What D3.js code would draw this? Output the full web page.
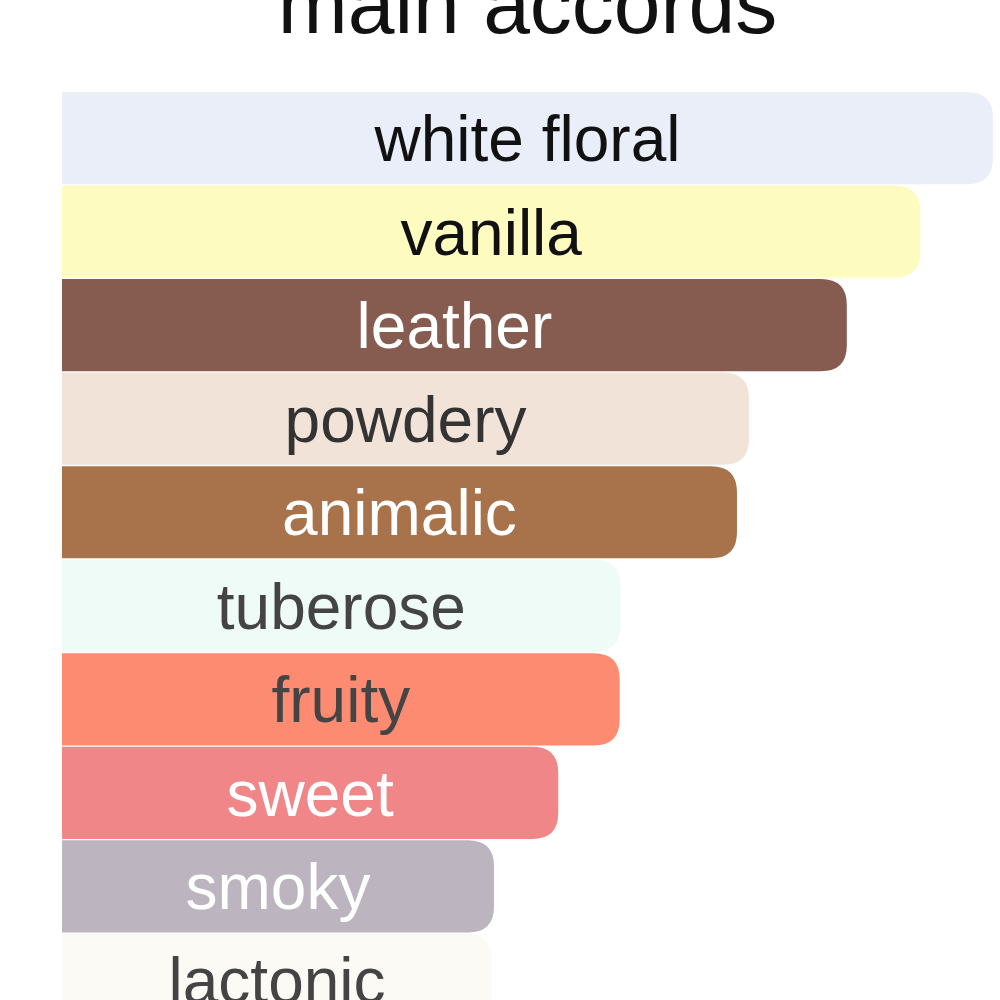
<!DOCTYPE html>
<html>
<head>
<meta charset="utf-8">
<script src="https://cdn.jsdelivr.net/npm/d3@7/dist/d3.min.js"></script>
<style>
  html, body { margin: 0; padding: 0; background: #fff; }
  svg { display: block; }
</style>
</head>
<body>
<svg id="chart" width="1000" height="1000"></svg>
<script>
const title = "main accords";
const categories = ["white floral", "vanilla", "leather", "powdery", "animalic", "tuberose", "fruity", "sweet", "smoky", "lactonic"];
const values = [100, 92.2, 84.3, 73.8, 72.5, 60.0, 59.9, 53.3, 46.4, 46.2];
const barColors = ["#e9eef9", "#fefbc1", "#875c50", "#f1e3d7", "#a8734a", "#effbf6", "#fc8b71", "#f18689", "#bcb4bf", "#fbfaf5"];
const textColors = ["#111111", "#111111", "#ffffff", "#333333", "#ffffff", "#444444", "#444444", "#ffffff", "#ffffff", "#444444"];

const svg = d3.select("#chart");
const x = d3.scaleLinear().domain([0, 100]).range([62, 993]);
const y = d3.scaleBand().domain(categories).range([92, 92 + 93.4 * categories.length]).paddingInner(0.015);

svg.append("text")
  .attr("x", (x(0) + x(100)) / 2)
  .attr("y", 33)
  .attr("text-anchor", "middle")
  .attr("font-family", "Liberation Sans, Arial, sans-serif")
  .attr("font-size", 84)
  .attr("fill", "#111")
  .text(title);

const r = 26;
function barPath(x0, x1, y0, h) {
  const rr = Math.min(r, (x1 - x0), h / 2);
  return `M${x0},${y0} H${x1 - rr} Q${x1},${y0} ${x1},${y0 + rr} V${y0 + h - rr} Q${x1},${y0 + h} ${x1 - rr},${y0 + h} H${x0} Z`;
}

const g = svg.append("g");
const rows = g.selectAll("g.row").data(categories).join("g").attr("class", "row");

rows.append("path")
  .attr("d", (d, i) => barPath(x(0), x(values[i]), y(d), y.bandwidth()))
  .attr("fill", (d, i) => barColors[i]);

rows.append("text")
  .attr("x", (d, i) => (x(0) + x(values[i])) / 2)
  .attr("y", d => y(d) + y.bandwidth() / 2)
  .attr("dy", "0.36em")
  .attr("text-anchor", "middle")
  .attr("font-family", "Liberation Sans, Arial, sans-serif")
  .attr("font-size", 64)
  .attr("fill", (d, i) => textColors[i])
  .text(d => d);
</script>
</body>
</html>
